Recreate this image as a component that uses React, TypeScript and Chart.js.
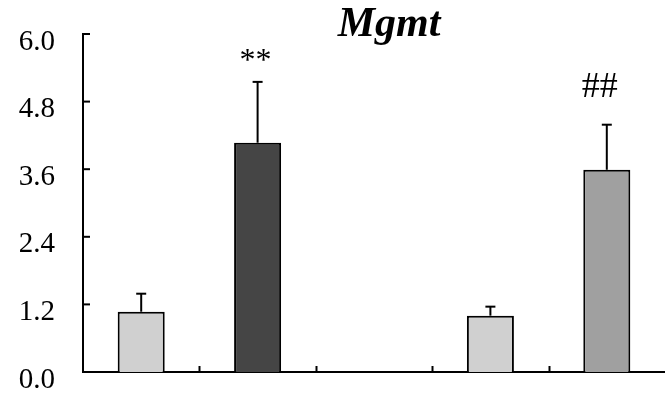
import React, { useEffect, useRef } from "react";
import { Chart, registerables } from "chart.js";

Chart.register(...registerables);

// Relative Mgmt expression, two paired groups with an empty spacer slot between them
const groups = ["Control 1", "Treated 1", "", "Control 2", "Treated 2"];
const meanExpression: (number | null)[] = [1.07, 4.07, null, 1.0, 3.59];
const upperError: (number | null)[] = [0.32, 1.08, null, 0.16, 0.8];
const significance = ["", "**", "", "", "##"];
const yTickValues = [0, 1.2, 2.4, 3.6, 4.8, 6.0];
const chartTitle = "Mgmt";

const barFills = ["#d0d0d0", "#454545", "rgba(0,0,0,0)", "#d0d0d0", "#a0a0a0"];

const SERIF = "'Liberation Serif', 'Times New Roman', serif";

// Per-marker styling for the significance symbols
const markerStyle: Record<string, { size: number; lift: number; shift: number }> = {
  "**": { size: 32, lift: 12, shift: -2 },
  "##": { size: 36, lift: 28, shift: -7 },
};

const decorations = {
  id: "decorations",
  afterDatasetsDraw(chart: any) {
    const { ctx, chartArea, scales } = chart;
    const xs = scales.x;
    const ys = scales.y;
    const line = (x1: number, y1: number, x2: number, y2: number) => {
      ctx.beginPath();
      ctx.moveTo(x1, y1);
      ctx.lineTo(x2, y2);
      ctx.stroke();
    };
    ctx.save();
    ctx.strokeStyle = "#000";
    ctx.fillStyle = "#000";
    ctx.lineWidth = 2;

    // upper error bars with caps
    meanExpression.forEach((v, i) => {
      const e = upperError[i];
      if (v == null || e == null) return;
      const cx = xs.getPixelForValue(i);
      const top = ys.getPixelForValue(v);
      const et = ys.getPixelForValue(v + e);
      line(cx, top, cx, et);
      line(cx - 5, et, cx + 5, et);
    });

    // inward tick marks on the value axis
    yTickValues.forEach((t) => {
      const py = ys.getPixelForValue(t);
      line(chartArea.left, py, chartArea.left + 7, py);
    });

    // upward tick marks between categories
    for (let i = 0; i < groups.length - 1; i++) {
      const bx = Math.round((xs.getPixelForValue(i) + xs.getPixelForValue(i + 1)) / 2) + 0.5;
      line(bx, chartArea.bottom, bx, chartArea.bottom - 6);
    }

    // significance symbols above the error bars
    ctx.textAlign = "center";
    ctx.textBaseline = "alphabetic";
    significance.forEach((s, i) => {
      const v = meanExpression[i];
      const e = upperError[i];
      if (!s || v == null || e == null) return;
      const st = markerStyle[s];
      ctx.font = `${st.size}px ${SERIF}`;
      const cx = xs.getPixelForValue(i) + st.shift;
      const et = ys.getPixelForValue(v + e);
      ctx.fillText(s, cx, et - st.lift);
    });

    // title
    ctx.font = `bold italic 42px ${SERIF}`;
    ctx.fillText(chartTitle, (chartArea.left + chartArea.right) / 2 + 15, 36);
    ctx.restore();
  },
};

export default function App() {
  const canvasRef = useRef<HTMLCanvasElement | null>(null);

  useEffect(() => {
    document.body.style.margin = "0";
    const canvas = canvasRef.current;
    if (!canvas) return;
    const chart = new Chart(canvas, {
      type: "bar",
      data: {
        labels: groups,
        datasets: [
          {
            data: meanExpression,
            backgroundColor: barFills,
            borderColor: "#000",
            borderWidth: 2,
            barPercentage: 0.404,
            categoryPercentage: 1,
          },
        ],
      },
      options: {
        animation: false,
        responsive: false,
        devicePixelRatio: 1,
        layout: { padding: { top: 34, right: 0, left: 0, bottom: 0 } },
        plugins: {
          legend: { display: false },
          title: { display: false },
          tooltip: { enabled: false },
        },
        scales: {
          x: {
            type: "category",
            offset: true,
            grid: { display: false },
            border: { display: true, color: "#000", width: 2 },
            ticks: { display: false },
            afterFit: (s: any) => {
              s.height = 25;
              s.paddingLeft = 0;
              s.paddingRight = 0;
            },
          },
          y: {
            min: 0,
            max: 6,
            grid: { display: false },
            border: { display: true, color: "#000", width: 2 },
            afterBuildTicks: (s: any) => {
              s.ticks = yTickValues.map((v) => ({ value: v }));
            },
            ticks: {
              color: "#000",
              font: { family: SERIF, size: 29 },
              padding: 20,
              labelOffset: 8,
              callback: (v: any) => Number(v).toFixed(1),
            },
            afterFit: (s: any) => {
              s.width = 83;
              s.paddingTop = 0;
              s.paddingBottom = 0;
            },
          },
        },
      },
      plugins: [decorations],
    });
    return () => chart.destroy();
  }, []);

  return (
    <div style={{ width: 665, height: 397, background: "#fff" }}>
      <canvas ref={canvasRef} width={665} height={397} style={{ display: "block" }} />
    </div>
  );
}
